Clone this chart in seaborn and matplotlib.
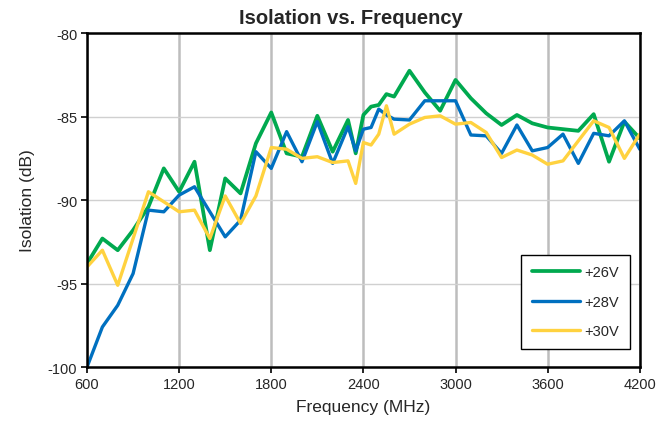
import numpy as np
import pandas as pd
import matplotlib
matplotlib.use("Agg")
import matplotlib.pyplot as plt
import seaborn as sns

# frequency points (MHz)
FREQ = [600, 700, 800, 900, 1000, 1100, 1200, 1300, 1400, 1500,
        1600, 1700, 1800, 1900, 2000, 2100, 2200, 2300, 2350, 2400,
        2450, 2500, 2550, 2600, 2700, 2800, 2900, 3000, 3100, 3200,
        3300, 3400, 3500, 3600, 3700, 3800, 3900, 4000, 4100, 4200]

ISO_26V = [-93.8, -92.3, -93.0, -91.8, -90.4, -88.1, -89.5, -87.7, -93.0, -88.7,
           -89.6, -86.6, -84.75, -87.2, -87.4, -84.95, -87.1, -85.2, -87.2, -84.9,
           -84.4, -84.3, -83.65, -83.8, -82.25, -83.55, -84.65, -82.8, -83.9, -84.8,
           -85.5, -84.9, -85.4, -85.65, -85.75, -85.85, -84.85, -87.7, -85.3, -86.3]

ISO_28V = [-100.0, -97.6, -96.3, -94.4, -90.6, -90.7, -89.7, -89.2, -90.7, -92.2,
           -91.2, -87.1, -88.1, -85.9, -87.7, -85.3, -87.8, -85.6, -87.05, -85.75,
           -85.65, -84.55, -84.9, -85.15, -85.2, -84.05, -84.05, -84.05, -86.1, -86.15,
           -87.2, -85.5, -87.05, -86.85, -86.05, -87.8, -86.0, -86.15, -85.25, -86.95]

ISO_30V = [-94.0, -93.0, -95.1, -92.3, -89.5, -90.1, -90.7, -90.6, -92.3, -89.75,
           -91.4, -89.75, -86.85, -86.95, -87.5, -87.4, -87.75, -87.65, -89.0, -86.55,
           -86.7, -86.05, -84.35, -86.05, -85.45, -85.05, -84.95, -85.45, -85.35, -85.95,
           -87.45, -87.0, -87.3, -87.85, -87.65, -86.45, -85.25, -85.65, -87.5, -86.05]

LABELS = ["+26V", "+28V", "+30V"]
COLORS = ["#00A94F", "#0070C0", "#FFD23F"]
WIDTHS = [2.7, 2.4, 2.4]

X_TICKS = [600, 1200, 1800, 2400, 3000, 3600, 4200]
Y_TICKS = [-100, -95, -90, -85, -80]

df = pd.concat([
    pd.DataFrame({"Frequency": FREQ, "Isolation": vals, "Bias": lab})
    for vals, lab in zip([ISO_26V, ISO_28V, ISO_30V], LABELS)
])

sns.set_style("white")
plt.rcParams["font.family"] = ["Liberation Sans", "DejaVu Sans"]
plt.rcParams["axes.unicode_minus"] = False

fig = plt.figure(figsize=(6.72, 4.27), dpi=100)
ax = fig.add_axes([0.1295, 0.138, 0.8225, 0.782])

sns.lineplot(data=df, x="Frequency", y="Isolation", hue="Bias",
             palette=dict(zip(LABELS, COLORS)), linewidth=2.4,
             ax=ax, legend=False, sort=False)
for line, w in zip(ax.get_lines(), WIDTHS):
    line.set_linewidth(w)
    line.set_solid_joinstyle("round")
    line.set_solid_capstyle("round")

ax.set_xlim(600, 4200)
ax.set_ylim(-100, -80)
ax.set_xticks(X_TICKS)
ax.set_yticks(Y_TICKS)
ax.tick_params(axis="both", labelsize=10.5, direction="out", length=4, width=1.2,
               color="black", left=True, bottom=True, pad=3)

ax.xaxis.grid(True, color="#BDBDBD", linewidth=1.8)
ax.yaxis.grid(True, color="#D0D0D0", linewidth=1.0)
ax.set_axisbelow(True)
for sp in ax.spines.values():
    sp.set_color("black")
    sp.set_linewidth(1.8)

ax.set_title("Isolation vs. Frequency", fontsize=14.5, fontweight="bold",
             pad=7, x=0.478)
ax.set_xlabel("Frequency (MHz)", fontsize=12.5, labelpad=6)
ax.set_ylabel("Isolation (dB)", fontsize=12.5, labelpad=9)

handles = [plt.Line2D([], [], color=c, linewidth=w) for c, w in zip(COLORS, WIDTHS)]
leg = ax.legend(handles, LABELS, loc="lower right", bbox_to_anchor=(0.982, 0.054),
                fontsize=10.5, frameon=True, fancybox=False, edgecolor="black",
                framealpha=1, handlelength=3.3, labelspacing=1.05,
                borderpad=0.75, handletextpad=0.3, borderaxespad=0)
leg.get_frame().set_linewidth(1.0)

fig.savefig("out.png", dpi=100)
